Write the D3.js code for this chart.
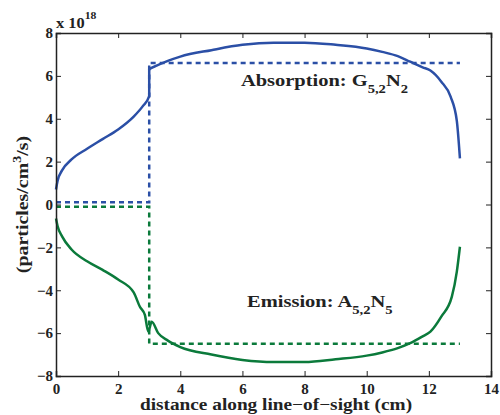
<!DOCTYPE html>
<meta charset="utf-8">
<script src="https://d3js.org/d3.v7.min.js"></script>
<style>
  body { margin: 0; background: #fff; }
  text { font-family: "Liberation Serif", "Times New Roman", serif; font-weight: bold; fill: #222; }
</style>
<body>
<script>

    // data (values in units of 1e18)
    var absX = [0, 0.05, 0.2, 0.5, 1, 1.5, 2, 2.5, 2.8, 3, 3, 3.2, 3.6, 4, 5, 6, 7, 8, 9, 10, 10.5, 11, 11.4, 11.8, 12.05, 12.4, 12.7, 12.9, 13];
    var absY = [0.7, 1.1, 1.6, 2.1, 2.6, 3.05, 3.5, 4.1, 4.6, 5.05, 6.3, 6.45, 6.7, 6.9, 7.2, 7.45, 7.55, 7.55, 7.45, 7.28, 7.12, 6.92, 6.66, 6.4, 6.25, 5.73, 5.03, 3.9, 2.15];

    var emiX = [0, 0.05, 0.2, 0.5, 1, 1.5, 2, 2.5, 2.7, 2.86, 2.97, 3.08, 3.29, 3.6, 4, 5, 6, 7, 8, 9, 10, 10.5, 11, 11.4, 11.8, 12.05, 12.4, 12.74, 12.9, 13];
    var emiY = [-0.65, -1.0, -1.5, -2.1, -2.65, -3.05, -3.5, -4.1, -4.77, -5.15, -5.93, -5.47, -6.0, -6.35, -6.65, -7.0, -7.25, -7.35, -7.35, -7.22, -7.05, -6.9, -6.7, -6.47, -6.15, -5.93, -5.23, -4.3, -3.13, -1.97];

    var absStepX = [0, 3, 3, 13];
    var absStepY = [0.1, 0.1, 6.6, 6.6];
    var emiStepX = [0, 3, 3, 13];
    var emiStepY = [-0.1, -0.1, -6.5, -6.5];

    var xTicks = [0, 2, 4, 6, 8, 10, 12, 14];
    var yTicks = [-8, -6, -4, -2, 0, 2, 4, 6, 8];

    var blue = "#2b4fa6", green = "#0b7a3b";

    var margin = {top: 33, right: 9, bottom: 39, left: 56},
        width = 500 - margin.left - margin.right,
        height = 415 - margin.top - margin.bottom;

    var x = d3.scaleLinear().domain([0, 14]).range([0, width]);
    var y = d3.scaleLinear().domain([-8, 8]).range([height, 0]);

    var svg = d3.select("body")
        .append("svg")
        .attr("width", 500)
        .attr("height", 415)
        .append("g")
        .attr("transform", "translate(" + margin.left + "," + margin.top + ")");

    var line = d3.line()
        .x(function(d) { return x(d[0]); })
        .y(function(d) { return y(d[1]); });

    function pairs(xs, ys) { return xs.map(function(v, i) { return [v, ys[i]]; }); }

    // dashed step lines
    svg.append("path").datum(pairs(absStepX, absStepY))
        .attr("d", line).attr("fill", "none").attr("stroke", blue)
        .attr("stroke-width", 2.5).attr("stroke-dasharray", "5,4");
    svg.append("path").datum(pairs(emiStepX, emiStepY))
        .attr("d", line).attr("fill", "none").attr("stroke", green)
        .attr("stroke-width", 2.5).attr("stroke-dasharray", "5,4");

    // solid curves
    svg.append("path").datum(pairs(absX, absY))
        .attr("d", line.curve(d3.curveMonotoneX)).attr("fill", "none").attr("stroke", blue)
        .attr("stroke-width", 2.5);
    svg.append("path").datum(pairs(emiX, emiY))
        .attr("d", line.curve(d3.curveMonotoneX)).attr("fill", "none").attr("stroke", green)
        .attr("stroke-width", 2.5).attr("stroke-linejoin", "round");

    // axes box with ticks on all sides
    var tickLen = 5;
    svg.append("g").attr("transform", "translate(0," + height + ")")
        .call(d3.axisBottom(x).tickValues(xTicks).tickSize(-tickLen).tickPadding(7).tickFormat(d3.format("d")));
    svg.append("g")
        .call(d3.axisTop(x).tickValues(xTicks).tickSize(-tickLen).tickFormat(""));
    svg.append("g")
        .call(d3.axisLeft(y).tickValues(yTicks).tickSize(-tickLen).tickPadding(3)
            .tickFormat(function(d) { return d < 0 ? "\u2212" + Math.abs(d) : d; }));
    svg.append("g").attr("transform", "translate(" + width + ",0)")
        .call(d3.axisRight(y).tickValues(yTicks).tickSize(-tickLen).tickFormat(""));

    svg.selectAll(".domain").attr("stroke", "#222").attr("stroke-width", 1.5);
    svg.selectAll(".tick line").attr("stroke", "#222");
    svg.selectAll(".tick text")
        .style("font-family", "Liberation Serif, serif").style("font-weight", "bold")
        .style("font-size", "15px").attr("fill", "#222");

    // the original typeface is a little wider than Liberation Serif, so labels get stretched
    var stretch = 1.17;

    // x10^18
    var mult = svg.append("g")
        .attr("transform", "translate(0,-5) scale(" + stretch + ",1)")
        .append("text").style("font-size", "14px");
    mult.append("tspan").text("x 10");
    mult.append("tspan").attr("dy", -9).style("font-size", "10px").text("18");

    // axis labels
    svg.append("g")
        .attr("transform", "translate(" + (276 - margin.left) + "," + (height + 34) + ") scale(" + stretch + ",1)")
        .append("text")
        .attr("text-anchor", "middle")
        .style("font-size", "16.5px")
        .text("distance along line\u2212of\u2212sight (cm)");

    var yl = svg.append("g")
        .attr("transform", "translate(" + (-28) + "," + y(0) + ") rotate(-90) scale(" + stretch + ",1)")
        .append("text")
        .attr("text-anchor", "middle")
        .style("font-size", "17px");
    yl.append("tspan").text("(particles/cm");
    yl.append("tspan").attr("dy", -7).style("font-size", "12px").text("3");
    yl.append("tspan").attr("dy", 7).text("/s)");

    // annotations
    function label(xv, yv, main, sub1, mid, sub2) {
        var t = svg.append("g")
            .attr("transform", "translate(" + x(xv) + "," + y(yv) + ") scale(" + stretch + ",1)")
            .append("text").style("font-size", "17.5px");
        t.append("tspan").text(main);
        t.append("tspan").attr("dy", 7).style("font-size", "12.5px").text(sub1);
        t.append("tspan").attr("dy", -7).text(mid);
        t.append("tspan").attr("dy", 7).style("font-size", "12.5px").text(sub2);
    }
    label(5.95, 5.55, "Absorption: G", "5,2", "N", "2");
    label(6.15, -4.8, "Emission: A", "5,2", "N", "5");

</script>
</body>
